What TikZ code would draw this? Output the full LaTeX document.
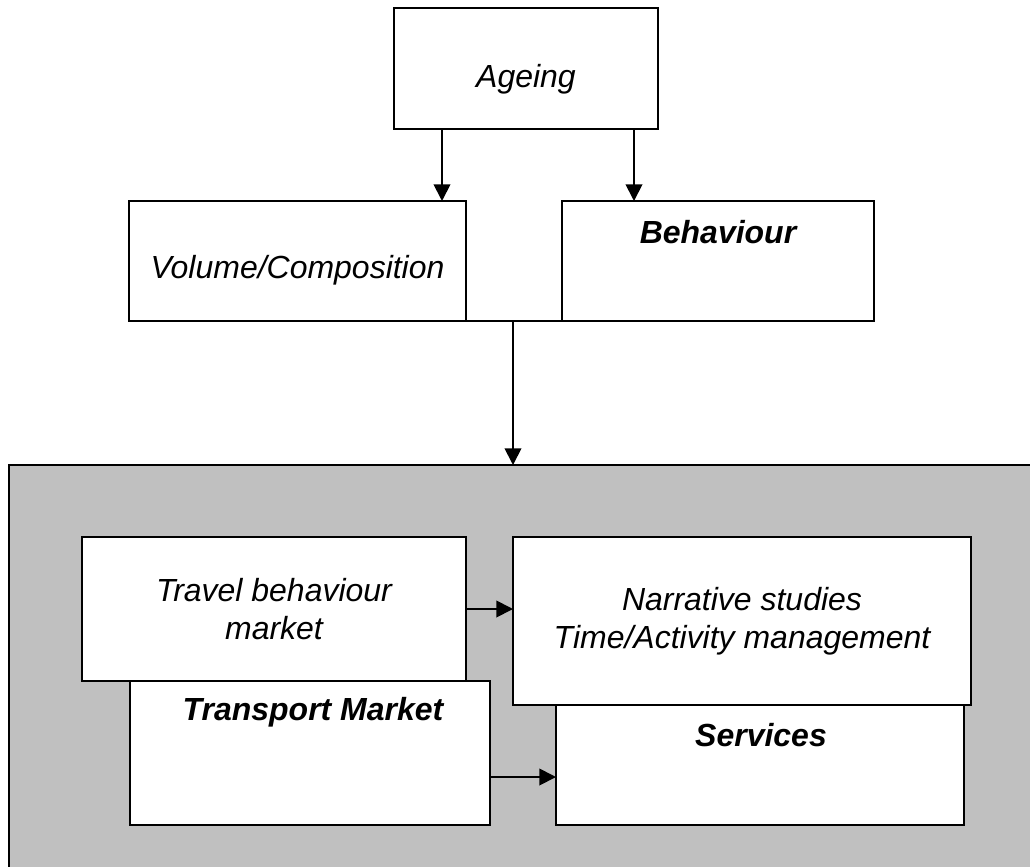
\documentclass[tikz,border=0pt]{standalone}
\usepackage{fontspec}
\setmainfont{Liberation Sans}
\usetikzlibrary{arrows.meta}
\definecolor{panelgray}{RGB}{192,192,192}
\tikzset{
    box/.style={draw, line width=1.7pt, fill=white, rectangle, inner sep=0pt, outer sep=0pt, align=center,
        font=\fontsize{27.3}{32.5}\selectfont\itshape},
    lowtext/.style={text height=#1, text depth=0.2cm},
    panel/.style={draw, line width=1.7pt, fill=panelgray, rectangle, inner sep=0pt, outer sep=0pt},
    headtext/.style={inner sep=0pt, font=\fontsize{27.3}{32.5}\selectfont\bfseries\itshape},
    flow/.style={-{Triangle[length=0.5cm, width=0.5cm]}, line width=1.6pt},
    link/.style={line width=1.6pt}
}

\begin{document}
\begin{tikzpicture}[x=0.03cm, y=-0.03cm]
\path[use as bounding box, clip] (0,0) rectangle (1030,867);

\node[box, lowtext=1.33cm, minimum width=7.92cm, minimum height=3.63cm] at (526,68.5) (ageing) {Ageing};

\node[box, lowtext=1.23cm, minimum width=10.11cm, minimum height=3.6cm] at (297.5,261) (vol) {Volume/Composition};
\node[box, minimum width=9.36cm, minimum height=3.6cm] at (718,261) (beh) {};
\node[headtext] at (718,232) (behtext) {Behaviour};

\node[panel, minimum width=30.66cm, minimum height=12.3cm] at (520,670) (market) {};

\node[box, minimum width=11.52cm, minimum height=4.32cm] at (274,609) (travel) {Travel behaviour\\market};
\node[box, minimum width=10.8cm, minimum height=4.32cm] at (310,753) (transport) {};
\node[headtext] at (313,712) (transtext) {Transport Market};

\node[box, minimum width=12.24cm, minimum height=3.6cm] at (760,765) (services) {};
\node[headtext] at (761,735) (servtext) {Services};
\node[box, minimum width=13.74cm, minimum height=5.04cm] at (742,621) (narrative) {Narrative studies\\Time/Activity management};

\coordinate (aL) at ([xshift=-2.52cm]ageing.south);
\coordinate (aR) at ([xshift=3.24cm]ageing.south);
\coordinate (join) at (513,321);
\coordinate (tm) at ([yshift=-0.72cm]transport.east);

\draw[flow] (aL) -- (aL |- vol.north);
\draw[flow] (aR) -- (aR |- beh.north);

\draw[link] (vol.south east) -- (beh.south west);
\draw[flow] (join) -- (join |- market.north);

\draw[flow] (travel.east) -- (travel.east -| narrative.west);
\draw[flow] (tm) -- (tm -| services.west);
\end{tikzpicture}
\end{document}
